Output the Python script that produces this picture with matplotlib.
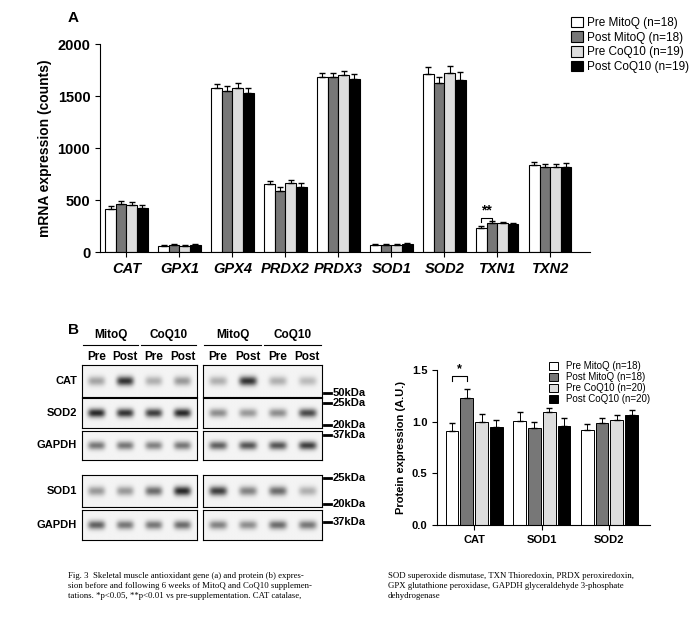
import numpy as np
import matplotlib
matplotlib.use("Agg")
import matplotlib.pyplot as plt
from matplotlib.colors import LinearSegmentedColormap

plt.rcParams['font.family'] = ['Liberation Sans', 'DejaVu Sans']

# ---- Panel A data ----
genes = ["CAT", "GPX1", "GPX4", "PRDX2", "PRDX3", "SOD1", "SOD2", "TXN1", "TXN2"]
pre_mitoq = [410, 60, 1580, 650, 1680, 70, 1715, 235, 840]
post_mitoq = [460, 65, 1545, 590, 1685, 65, 1625, 280, 820]
pre_coq = [455, 60, 1580, 660, 1700, 70, 1720, 275, 815]
post_coq = [420, 65, 1530, 625, 1660, 75, 1650, 270, 820]
err_pre_mitoq = [30, 8, 40, 30, 40, 8, 60, 15, 30]
err_post_mitoq = [35, 8, 50, 35, 40, 8, 60, 15, 30]
err_pre_coq = [30, 8, 45, 35, 45, 8, 70, 15, 30]
err_post_coq = [35, 8, 45, 35, 50, 8, 80, 12, 40]
legend_a = ["Pre MitoQ (n=18)", "Post MitoQ (n=18)", "Pre CoQ10 (n=19)", "Post CoQ10 (n=19)"]

# ---- Panel B data ----
proteins = ["CAT", "SOD1", "SOD2"]
b_pre_mitoq = [0.91, 1.01, 0.92]
b_post_mitoq = [1.23, 0.94, 0.99]
b_pre_coq = [1.00, 1.09, 1.02]
b_post_coq = [0.95, 0.96, 1.06]
b_err_pre_mitoq = [0.08, 0.08, 0.06]
b_err_post_mitoq = [0.09, 0.06, 0.05]
b_err_pre_coq = [0.07, 0.04, 0.04]
b_err_post_coq = [0.07, 0.08, 0.05]
legend_b = ["Pre MitoQ (n=18)", "Post MitoQ (n=18)", "Pre CoQ10 (n=20)", "Post CoQ10 (n=20)"]

# blot band intensities (left block, right block), lanes: Pre/Post MitoQ, Pre/Post CoQ10
blot_rows = ["CAT", "SOD2", "GAPDH", "SOD1", "GAPDH"]
band_left = [[0.35, 0.85, 0.3, 0.4], [0.9, 0.85, 0.8, 0.9], [0.55, 0.55, 0.5, 0.55],
             [0.4, 0.4, 0.6, 0.9], [0.65, 0.55, 0.55, 0.6]]
band_right = [[0.3, 0.85, 0.3, 0.25], [0.45, 0.4, 0.45, 0.75], [0.65, 0.7, 0.7, 0.8],
              [0.8, 0.5, 0.6, 0.3], [0.5, 0.45, 0.6, 0.55]]

colors = ["white", "#777777", "#dddddd", "black"]
W, H = 697, 620
fig = plt.figure(figsize=(W / 100, H / 100), dpi=100)

def fx(x): return x / W
def fy(y): return 1 - y / H

# ---- Panel A ----
axA = fig.add_axes([fx(100), fy(252), fx(590 - 100), fy(44) - fy(252)])
x = np.arange(len(genes))
bw = 0.2
bars = []
for i, (vals, errs) in enumerate(zip([pre_mitoq, post_mitoq, pre_coq, post_coq],
                                     [err_pre_mitoq, err_post_mitoq, err_pre_coq, err_post_coq])):
    b = axA.bar(x + (i - 1.5) * bw, vals, bw, color=colors[i], edgecolor="black", linewidth=0.8,
                yerr=[np.zeros(len(errs)), errs], error_kw=dict(ecolor="black", elinewidth=0.8, capsize=2),
                label=legend_a[i])
    bars.append(b)
axA.set_ylim(0, 2000)
axA.set_xlim(-0.5, len(genes) - 0.25)
axA.set_yticks([0, 500, 1000, 1500, 2000])
axA.set_xticks(x)
axA.set_xticklabels(genes, fontstyle="italic", fontweight="bold", fontsize=10.5)
axA.tick_params(axis="y", labelsize=10.5)
for t in axA.get_yticklabels():
    t.set_fontweight("bold")
axA.set_ylabel("mRNA expression (counts)", fontweight="bold", fontsize=10)
for s in ["top", "right"]:
    axA.spines[s].set_visible(False)
fig.legend(handles=bars, labels=legend_a, loc="upper left", bbox_to_anchor=(fx(566), fy(12)),
           frameon=False, fontsize=8.5, handlelength=1.0, handleheight=1.0, labelspacing=0.2,
           borderaxespad=0, handletextpad=0.4)
# significance TXN1
i7 = genes.index("TXN1")
yb = 330
axA.plot([i7 - 1.5 * bw, i7 - 1.5 * bw, i7 - 0.5 * bw, i7 - 0.5 * bw], [yb - 40, yb, yb, yb - 40],
         color="black", lw=0.8)
axA.text(i7 - bw, yb, "**", ha="center", va="bottom", fontweight="bold", fontsize=10)
fig.text(fx(68), fy(18), "A", fontweight="bold", fontsize=11, va="center")

# ---- Panel B blots ----
fig.text(fx(68), fy(330), "B", fontweight="bold", fontsize=11, va="center")
cmap = LinearSegmentedColormap.from_list("blot", ["#f4f4f4", "#111111"])
rows_y = [(365, 397), (398, 428), (431, 460), (475, 507), (510, 540)]
blocks_x = [(82, 197), (203, 322)]
for bi, (bx0, bx1) in enumerate(blocks_x):
    src = band_left if bi == 0 else band_right
    for ri, (y0, y1) in enumerate(rows_y):
        ax = fig.add_axes([fx(bx0), fy(y1), fx(bx1 - bx0), fy(y0) - fy(y1)])
        xs = np.linspace(0, 4, 200)
        ys = np.linspace(0, 1, 40)
        X, Y = np.meshgrid(xs, ys)
        img = np.zeros_like(X)
        for li, v in enumerate(src[ri]):
            img += v * np.exp(-((X - (li + 0.5)) / 0.3) ** 4) * np.exp(-((Y - 0.5) / 0.15) ** 2)
        ax.imshow(np.clip(img, 0, 1), cmap=cmap, vmin=0, vmax=1, aspect="auto",
                  extent=[0, 4, 0, 1])
        ax.set_xticks([]); ax.set_yticks([])
        for s in ax.spines.values():
            s.set_linewidth(0.8)
    w = (bx1 - bx0) / 4
    for gi, g in enumerate(["MitoQ", "CoQ10"]):
        cx = bx0 + w * (2 * gi + 1)
        fig.text(fx(cx), fy(335), g, ha="center", va="center", fontweight="bold", fontsize=8.5)
        fig.add_artist(plt.Line2D([fx(cx - w * 0.95), fx(cx + w * 0.95)], [fy(345), fy(345)],
                                  color="black", lw=0.8))
    for li, lab in enumerate(["Pre", "Post", "Pre", "Post"]):
        fig.text(fx(bx0 + w * (li + 0.5)), fy(357), lab, ha="center", va="center",
                 fontweight="bold", fontsize=8.5)
for ri, (y0, y1) in enumerate(rows_y):
    fig.text(fx(77), fy((y0 + y1) / 2), blot_rows[ri], ha="right", va="center",
             fontweight="bold", fontsize=8)
for lab, yy in [("50kDa", 393), ("25kDa", 403), ("20kDa", 425), ("37kDa", 435),
                ("25kDa", 478), ("20kDa", 504), ("37kDa", 522)]:
    fig.add_artist(plt.Line2D([fx(324), fx(331)], [fy(yy), fy(yy)], color="black", lw=2))
    fig.text(fx(333), fy(yy), lab, ha="left", va="center", fontweight="bold", fontsize=8)

# ---- Panel B bar chart ----
axB = fig.add_axes([fx(437), fy(525), fx(650 - 437), fy(370) - fy(525)])
xb = np.arange(len(proteins))
bw2 = 0.19
for i, (vals, errs) in enumerate(zip([b_pre_mitoq, b_post_mitoq, b_pre_coq, b_post_coq],
                                     [b_err_pre_mitoq, b_err_post_mitoq, b_err_pre_coq, b_err_post_coq])):
    axB.bar(xb + (i - 1.5) * bw2 * 1.15, vals, bw2, color=colors[i], edgecolor="black", linewidth=0.7,
            yerr=[np.zeros(len(errs)), errs], error_kw=dict(ecolor="black", elinewidth=0.7, capsize=2),
            label=legend_b[i])
axB.set_ylim(0, 1.5)
axB.set_xlim(-0.55, 2.6)
axB.set_yticks([0, 0.5, 1.0, 1.5])
axB.set_xticks(xb)
axB.set_xticklabels(proteins, fontweight="bold", fontsize=8)
axB.tick_params(labelsize=8)
for t in axB.get_yticklabels():
    t.set_fontweight("bold")
axB.set_ylabel("Protein expression (A.U.)", fontweight="bold", fontsize=8)
for s in ["top", "right"]:
    axB.spines[s].set_visible(False)
axB.legend(loc="upper right", bbox_to_anchor=(1.02, 1.08), frameon=False, fontsize=7,
           handlelength=1.0, handleheight=0.9, labelspacing=0.1, borderaxespad=0)
x0 = -1.5 * bw2 * 1.15; x1 = -0.5 * bw2 * 1.15
axB.plot([x0, x0, x1, x1], [1.39, 1.44, 1.44, 1.39], color="black", lw=0.8)
axB.text((x0 + x1) / 2, 1.45, "*", ha="center", va="bottom", fontweight="bold", fontsize=9)

# ---- Caption ----
cap_l = ("Fig. 3  Skeletal muscle antioxidant gene (a) and protein (b) expres-\n"
         "sion before and following 6 weeks of MitoQ and CoQ10 supplemen-\n"
         "tations. *p<0.05, **p<0.01 vs pre-supplementation. CAT catalase,")
cap_r = ("SOD superoxide dismutase, TXN Thioredoxin, PRDX peroxiredoxin,\n"
         "GPX glutathione peroxidase, GAPDH glyceraldehyde 3-phosphate\n"
         "dehydrogenase")
fig.text(fx(68), fy(572), cap_l, ha="left", va="top", fontsize=6.3, family="Liberation Serif",
         linespacing=1.35)
fig.text(fx(388), fy(572), cap_r, ha="left", va="top", fontsize=6.3, family="Liberation Serif",
         linespacing=1.35)

fig.savefig("out.png", dpi=100)
